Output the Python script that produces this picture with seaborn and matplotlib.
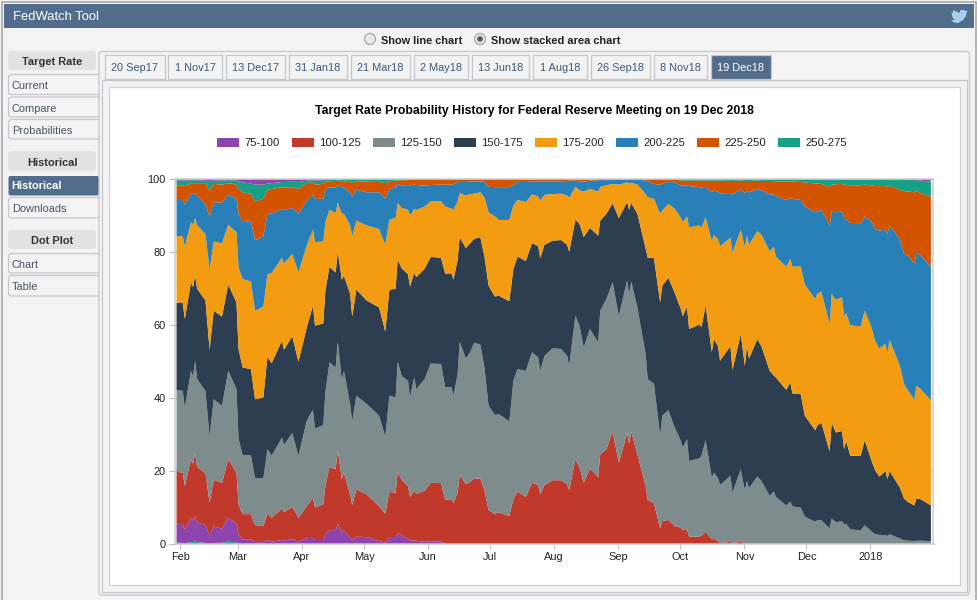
import numpy as np
import pandas as pd
import matplotlib
matplotlib.use("Agg")
import matplotlib.pyplot as plt
import matplotlib.dates as mdates
from matplotlib.patches import Rectangle, FancyBboxPatch, Circle, Polygon
import seaborn as sns

# ---------- data: days since 30 Jan 2017 ----------
days = [0,3,4,7,8,9,10,14,16,18,22,25,29,30,32,36,38,42,44,46,51,52,56,59,63,66,67,71,72,74,77,78,80,81,84,85,87,92,98,101,103,106,107,109,112,
        113,115,116,120,123,128,130,133,134,136,137,140,142,144,147,149,151,154,156,161,163,165,169,172,175,176,178,182,186,189,190,193,195,197,200,204,205,208,211,214,218,219,220,223,227,228,231,234,235,238,241,
        244,245,247,248,253,254,256,259,260,262,263,268,269,273,275,276,277,281,283,287,289,290,295,297,298,302,304,309,310,312,316,317,319,322,323,324,326,331,333,336,338,340,343,344,345,350,352,354,357,358,360,365]

# upper edge of each band on the 0-100 probability axis
top_50_75 = [.4,.3,.2,.5,.6,.7,.5,.3,0,.3,.3,.7,.4,.1,0] + [0.0]*30 + [0.0]*51 + [0.0]*52
top_75_100 = [5.6,5.4,4,7,6.5,7.5,5.9,5.2,2.4,4.8,4.2,7.2,5.6,2.7,1.3,1.3,.5,.5,1.1,.6,1.1,1,1.3,.6,1.6,1.7,1.1,1.1,2.7,3.8,3.8,5.6,3.1,3.8,1.7,1.1,2,1.9,.8,.4,1.7,1.6,3.1,2.4,1.3,
              1,1,.9,.6,.8,.6] + [0.0]*45 + [0.0]*52
top_100_125 = [19.8,19.6,15.9,23.3,22,24.8,21.2,19.4,11.4,17.6,16.8,23.3,19.6,10.9,8.2,8.2,5.2,4.9,8.4,7.2,9.7,8.8,10.2,7.2,10.4,12.7,10,10.9,15.9,21.2,20.5,25.7,17.8,19.6,13.6,10.7,15,13.6,10.4,8.3,14.3,14.1,19.8,17.6,15.9,
               12.9,14.6,13.8,14.6,16.8,16.7,12.1,12.3,11.2,14.1,19,16.4,17,18,17.9,14.7,9.3,8.3,8.7,7.7,12.3,14.4,12.9,16.8,16.2,13.5,16.2,17.5,17.5,16.4,14.8,23.3,21,16.8,20.7,18.4,24.6,26,30.9,22.3,30.4,27.6,30.9,24.6,15.9,12.1,11.2,4.3,6.3,6.6,4.9,
               4.5,3.8,4,2,2,2.4,3.3,1.3,1.4,.8,.2,.6,0,.8,0] + [0.0]*37
top_125_150 = [42.2,42,37.3,47.5,46,50.3,45.2,42,29.5,39.7,37.9,47.5,42.5,28.8,24.4,24.3,18,18,26,24.2,29.2,27.2,30.4,24.2,33.8,36.8,31.7,32.6,41.6,49.8,48.4,55.5,45,47.5,38.4,33.6,40.7,38.4,35.2,29.4,40.7,40.2,50,46,44.8,
               40.2,45.7,42.5,45.2,49.5,49.4,43,43,40.7,46.6,55.5,50.9,52.5,55.2,54.7,48.4,37.9,35.4,35.6,33.6,44.8,48,47.5,52.6,51.2,47.5,51.6,53.7,53.5,51.6,48.9,62.6,59.9,53.9,59,55.3,64,67.2,71.8,62.5,72.3,68.6,72,64.9,52,45.2,44,29.7,35.2,36.7,32,
               28.3,26.5,28.8,22.8,23.5,24.2,28.5,18.2,19.6,18,16.2,18.7,14.1,20.5,14.6,17.3,15.3,18.5,17.3,13.2,14.4,12.9,10.6,11.6,10.3,10,7.5,6.1,6.5,6.5,4.3,7,6,6.2,5.5,5.5,4,3.8,5.1,3.6,2.7,2.5,2.4,2.2,2.7,1.5,1,.9,.8,.9,.9,.8]
top_150_175 = [66.2,66.3,61.7,71.8,70.5,73.6,70,66.8,53.3,64,62.4,71.2,66.3,53.5,48.4,48,39.7,40.2,51.4,49.6,55.8,53.3,57,50,59.4,65.4,59.9,60.5,69.5,76,74.5,80.3,72.5,73.6,68.6,62.4,69.8,66.8,64.9,58.3,69.8,70,78,75.6,74,
               70.6,74.5,73.2,75.5,78.8,78.5,74.1,74.3,72.5,77.9,84.2,81.2,82.5,83.7,84.2,78.8,70.9,67.9,68.1,66.6,75.5,78.9,77.6,82.6,81.7,78.4,82.1,83.2,83.4,82.1,80.2,89,87.8,84.2,86.7,84.6,88.7,90.6,93.5,89.4,93.8,91.7,93.6,90.6,81,78.5,78.5,66.3,70.9,73,69,
               64.5,62.5,65.2,59,60.2,59.5,65.5,52.7,56.2,54.3,50.3,54.3,47.8,57.6,48.9,54.3,50.9,56.2,54.3,47.5,46.2,45.7,42.3,44.3,41.3,41.1,35.2,31.2,32.4,33.3,25.4,33.3,30.6,31,26,28.3,24.2,24.2,28.5,23.3,20.3,18.5,20,17.8,20,15.5,12.5,11.5,10.6,12.5,12.3,10.6]
top_175_200 = [84.4,84.5,81.6,88.3,87.5,89.5,87.4,85,75.3,83,82.5,87.6,85.5,75.9,72.7,72,64,65.1,74,74.3,78.5,77,79.6,74.5,81.9,86.2,82.8,83,88.3,91.7,90.8,93.6,90.6,90.6,87.4,84.4,88.7,87.4,86.4,82.1,89,89.5,93.5,92.2,91.7,
               90.1,91.9,91.6,92.6,94,94,92.6,92,91.7,94,96.3,95.6,96,96.1,96.5,95.1,91,89.9,88.9,88.9,92.9,94.4,93.8,95.9,95.3,94.2,95.8,96,96.1,95.6,95,98,97,96.7,97.4,96.7,98,98.4,98.8,98.6,99.2,99,99.1,98.6,96,95.1,94.7,90.6,91.5,93.3,92,
               89.5,88.3,89.9,86.9,87.4,86.7,89.7,83.1,84.7,83.7,81.7,84,80,86.2,81.4,84.6,82.1,85.8,84.9,80.3,81.6,78.8,76.1,78.2,76.1,76.2,71.2,67.2,68.6,69.3,60.3,68.6,67,67.7,62.5,63.4,60,59.7,64,59.9,55.8,53.6,55,52.5,56,48.9,43.9,42,39.7,43.4,42.5,39.5]
top_200_225 = [94.4,94.4,93.1,96.1,96.3,96,95.6,93.3,89.8,93.8,93.6,95.9,94.7,90.6,88.3,88.6,83.4,84.4,90.6,90.6,91.9,91.6,92.2,90.6,94.2,95.9,94.7,94.7,97.3,97.9,97.7,98.6,97.9,97.8,96.5,95.3,97.2,96.5,96.5,94.7,97.4,97.8,98.8,98.4,98.2,
               98.4,98.6,98.5,98.3,98.5,98.6,98.6,98.6,98.6,99.3,99.3,99.3,99.4,99.4,99.5,99.3,98,97.9,97.9,97.9,98.5,99.3,99.3,99.4,99.4,99.4,99.5,99.5,99.5,99.6,99.7,99.7,99.4,99.4,99.7,99.8,99.9,99.8,99.9,99.9,100,100,100,100,99.7,99.5,98.8,98.5,98.9,99.4,99.2,
               98.4,98.3,98.4,98.2,97.9,97.8,98,96.5,97,96.7,96.2,96.3,95.9,97.3,96.3,96.7,96.5,97.3,97,95.9,95.9,95.5,94.4,94.9,94.7,94.4,92.6,91,91.3,91.7,87.4,91.2,91,91.2,89.5,89,88.1,88,89.8,88.7,86.4,86,86.2,85,87.4,83.7,79.6,79.1,77,80,79.1,76.1]
top_225_250 = [98.4,98.4,98.2,99,99,99,99,99,97,98.8,98.6,99,98.6,97.4,96.5,96.1,94,94.7,97.2,97.4,97.9,97.8,97.9,97.4,99,99.3,98.6,98.8,99.5,99.5,99.6,99.7,99.6,99.5,99.3,99,99.5,99.4,99.3,99,99.5,99.7,99.7,99.8,99.8] + [100.0]*51 + \
              [99.7,99.7,99.7,99.7,99.7,99.7,99.7,99.7,99.7,99.7,99.7,99.6,99.6,99.7,99.6,99.6,99.6,99.7,99.6,99.6,99.6,99.5,99.5,99.5,99.5,99.3,99.2,98.9,98.9,98.8,97.9,98.6,98.7,98.8,98.6,98.5,98.4,98.4,98.6,98.4,98.2,98.2,98.2,98,98.3,97.2,96.8,96.7,96.5,96.8,96.3,95.3]
top_250_275 = [99.7,99.7,99.7,99.8,99.8,99.8,99.7,99.7,99.3,99.7,99.7,99.8,99.7,99.5,99.2,98.9,98.6,98.6,98.9,99,99.3,99.3,99.4,99.3,99.7,99.8,99.7,99.7,99.9] + [100.0]*16 + [100.0]*51 + [100.0]*48 + [99.8,99.8,99.7,99.4]

band_labels = ["75-100", "100-125", "125-150", "150-175", "175-200", "200-225", "225-250", "250-275"]
band_colors = ["#8e44ad", "#c0392b", "#7f8c8d", "#2c3e50", "#f39c12", "#2980b9", "#d35400", "#16a085"]

tab_labels = ["20 Sep17", "1 Nov17", "13 Dec17", "31 Jan18", "21 Mar18", "2 May18", "13 Jun18", "1 Aug18", "26 Sep18", "8 Nov18", "19 Dec18"]
month_ticks = ["2017-02-01", "2017-03-01", "2017-04-01", "2017-05-01", "2017-06-01", "2017-07-01", "2017-08-01", "2017-09-01", "2017-10-01", "2017-11-01", "2017-12-01", "2018-01-01"]
month_labels = ["Feb", "Mar", "Apr", "May", "Jun", "Jul", "Aug", "Sep", "Oct", "Nov", "Dec", "2018"]
y_ticks = [0, 20, 40, 60, 80, 100]
chart_title = "Target Rate Probability History for Federal Reserve Meeting on 19 Dec 2018"

# ---------- theme ----------
sns.set_theme(style="white")
plt.rcParams["font.family"] = ["Liberation Sans", "DejaVu Sans"]
palette = sns.color_palette(band_colors)

PX = 0.72  # points per pixel at dpi 100
fig = plt.figure(figsize=(9.78, 6.0), dpi=100, facecolor="#f3f3f3")

# ---------- page chrome, in pixel coordinates ----------
bg = fig.add_axes([0, 0, 1, 1])
bg.set_xlim(0, 978); bg.set_ylim(600, 0); bg.axis("off")

BORDER = "#c6c6ce"
NAVY = "#526d8b"

def box(x0, y0, x1, y1, fc, ec="none", lw=1.0, r=0, z=1):
    if r:
        p = FancyBboxPatch((x0, y0), x1 - x0, y1 - y0, boxstyle=f"round,pad=0,rounding_size={r}",
                           fc=fc, ec=ec, lw=lw, zorder=z)
    else:
        p = Rectangle((x0, y0), x1 - x0, y1 - y0, fc=fc, ec=ec, lw=lw, zorder=z)
    bg.add_patch(p)

def label(x, y, s, size, color="black", weight="normal", ha="left"):
    bg.text(x, y + 1, s, fontsize=size * PX, color=color, fontweight=weight, ha=ha, va="center", zorder=5)

box(1.5, 1.5, 976, 700, "#f3f3f3", ec="#a8a8a8", lw=1.2)
box(4, 4, 974, 28, NAVY, z=2)
label(13, 16, "FedWatch Tool", 13, "white")
bg.add_patch(Polygon([(951, 20), (955, 20), (952.5, 17.5), (951.5, 12), (953, 13), (953, 10), (956, 11.5), (959.5, 13),
                      (960.5, 10), (964, 10), (965.5, 11), (967.5, 10.5), (966.5, 13), (966, 16), (963, 20),
                      (958, 23), (954, 22.5)], closed=True, fc="#a8cfee", ec="none", zorder=3))

bg.add_patch(Circle((370, 39), 5.5, fc="#e9e9e9", ec="#a8a8a8", lw=0.9, zorder=3))
bg.add_patch(Circle((480, 39), 5.5, fc="#e9e9e9", ec="#a8a8a8", lw=0.9, zorder=3))
bg.add_patch(Circle((480, 39), 2.8, fc="#555555", ec="none", zorder=4))
label(381, 39.5, "Show line chart", 11, "#222222", "bold")
label(491, 39.5, "Show stacked area chart", 11, "#222222", "bold")

# side menu
for txt, y0, y1 in [("Target Rate", 51, 70), ("Historical", 151, 171), ("Dot Plot", 230, 249)]:
    box(8, y0, 96, y1, "#e2e2e2", r=3)
    label(52, (y0 + y1) / 2 + 0.5, txt, 11, "#333333", "bold", "center")
for txt, y0, y1 in [("Current", 74.5, 94.5), ("Compare", 97, 117), ("Probabilities", 119.5, 139),
                    ("Downloads", 197.5, 218), ("Chart", 253.5, 273), ("Table", 275.5, 296)]:
    box(8.5, y0, 103, y1, "#f3f3f3", ec=BORDER, lw=0.9, r=3)
    label(12, (y0 + y1) / 2 + 0.7, txt, 11, "#4a5566")
box(8.5, 176, 99, 195.5, NAVY, r=2, z=1)
label(11.5, 185.3, "Historical", 11, "white", "bold")

# panels and tabs
box(99, 51.5, 969.5, 595, "#f3f3f3", ec=BORDER, lw=0.9, r=3, z=2)
box(101.5, 79.5, 966.5, 591.5, "#f3f3f3", ec=BORDER, lw=0.9, z=2)
box(108.5, 86.5, 959.5, 585, "white", ec="#d0d0d0", lw=0.9, z=2)
tab_edges = [(104.5, 165), (168, 222), (225.5, 285), (288.5, 347), (350.5, 410), (413.5, 468), (471.5, 529),
             (532.5, 587), (590.5, 650), (653.5, 707), (710.5, 771)]
for i, (txt, (x0, x1)) in enumerate(zip(tab_labels, tab_edges)):
    active = i == len(tab_labels) - 1
    box(x0, 54.5, x1, 79, NAVY if active else "#f3f3f3", ec=BORDER, lw=0.9, z=3)
    label((x0 + x1) / 2, 67.3, txt, 11, "white" if active else "#3a5a78", "normal", "center")

# chart title and legend
label(534.5, 110.3, chart_title, 12.25, "black", "bold", "center")
legend_x = [217, 292, 373, 454, 535, 616, 697, 778]
for lx, txt, col in zip(legend_x, band_labels, palette):
    box(lx, 138, lx + 22, 147, col, z=3)
    label(lx + 27, 142.5, txt, 11.3, "#222222")

# ---------- chart ----------
ax = fig.add_axes([175 / 978, (600 - 543.5) / 600, 758.5 / 978, 364.5 / 600], zorder=4)
start = pd.Timestamp("2017-01-30")
dates = start + pd.to_timedelta(days, unit="D")

edges = np.array([np.zeros(len(days)), top_50_75, top_75_100, top_100_125, top_125_150, top_150_175,
                  top_175_200, top_200_225, top_225_250, top_250_275, np.full(len(days), 100.0)], dtype=float)
bands = np.diff(edges, axis=0).clip(min=0)
# thin bands at the very bottom and top repeat the colour cycle, as in the reference
stack_colors = [palette[7]] + list(palette) + [palette[0]]
ax.set_facecolor("white")
ax.yaxis.grid(True, color="#cccccc", lw=1.0, zorder=0)
ax.set_axisbelow(True)
ax.stackplot(mdates.date2num(dates), bands, colors=stack_colors, linewidth=0, zorder=2)

ax.set_xlim(mdates.date2num(start) - 0.5, mdates.date2num(start) + 366.5)
ax.set_ylim(0, 100)
ax.set_yticks(y_ticks)
ax.set_xticks(mdates.date2num(pd.to_datetime(month_ticks)))
ax.set_xticklabels(month_labels)
ax.tick_params(axis="y", left=True, length=6.5 * PX, width=0.8, color="#c0c0c0", pad=2,
               labelsize=11 * PX, labelcolor="#222222")
ax.tick_params(axis="x", bottom=True, length=5 * PX, width=0.8, color="#c0c0c0", pad=2.5,
               labelsize=11 * PX, labelcolor="#222222")
for side in ax.spines.values():
    side.set_color("#cccccc")
    side.set_linewidth(1.1)
sns.despine(ax=ax, top=False, right=False)

fig.savefig("out.png", dpi=100, facecolor=fig.get_facecolor())
